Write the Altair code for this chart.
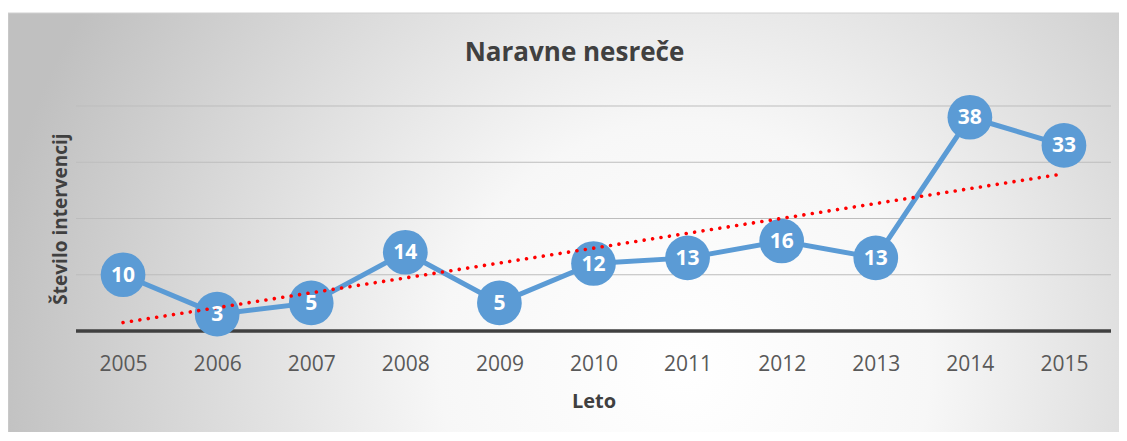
import altair as alt
import pandas as pd

years = [2005, 2006, 2007, 2008, 2009, 2010, 2011, 2012, 2013, 2014, 2015]
values = [10, 3, 5, 14, 5, 12, 13, 16, 13, 38, 33]
grid_values = [10, 20, 30, 40]

df = pd.DataFrame({"Leto": years, "Vrednost": values})
grid_df = pd.DataFrame({"Vrednost": grid_values})
base_df = pd.DataFrame({"Vrednost": [0]})

W, H = 1035, 225
FONT = "Open Sans"
TXT = "#404040"

xscale = alt.Scale(domain=[2004.5, 2015.5], nice=False, zero=False)
yscale = alt.Scale(domain=[0, 40], nice=False)

xaxis = alt.Axis(
    values=years, format="d", title="Leto", domain=False, ticks=False, grid=False,
    labelFont=FONT, labelFontSize=21, labelColor="#595959", labelPadding=22,
    titleFont=FONT, titleFontSize=20, titleFontWeight="bold", titleColor=TXT,
    titlePadding=17, zindex=1,
)
yaxis = alt.Axis(
    title="Število intervencij", domain=False, ticks=False, grid=False, labels=False,
    titleFont=FONT, titleFontSize=19, titleFontWeight="bold", titleColor=TXT,
    titlePadding=6, zindex=1,
)

X = alt.X("Leto:Q", scale=xscale, axis=xaxis)
Y = alt.Y("Vrednost:Q", scale=yscale, axis=yaxis)

bg = alt.Chart(pd.DataFrame({"a": [0]})).mark_rect(
    fill={
        "gradient": "radial",
        "x1": 0.6, "y1": 0.62, "r1": 0.0,
        "x2": 0.6, "y2": 0.62, "r2": 0.62,
        "stops": [
            {"offset": 0.0, "color": "#ffffff"},
            {"offset": 0.35, "color": "#f7f7f7"},
            {"offset": 1.0, "color": "#c0c0c0"},
        ],
    },
    stroke="#d0d0d0",
    strokeWidth=1,
).encode(
    x=alt.value(-68), x2=alt.value(1060),
    y=alt.value(-93), y2=alt.value(345),
)

grid = alt.Chart(grid_df).mark_rule(color="#bdbdbd", strokeWidth=1).encode(
    y=Y, x=alt.value(0), x2=alt.value(W),
)

baseline = alt.Chart(base_df).mark_rule(color="#404040", strokeWidth=3.5).encode(
    y=Y, x=alt.value(0), x2=alt.value(W),
)

line = alt.Chart(df).mark_line(color="#5b9bd5", strokeWidth=5).encode(x=X, y=Y)
pts = alt.Chart(df).mark_point(filled=True, shape="circle", size=2000, color="#5b9bd5", opacity=1).encode(
    x=X, y=Y
)
trend = alt.Chart(df).transform_regression("Leto", "Vrednost").mark_line(
    color="#ff0000", strokeWidth=3.6, strokeDash=[0.01, 8.5], strokeCap="round"
).encode(x=X, y=Y)
labels = alt.Chart(df).mark_text(
    font=FONT, fontSize=21, fontWeight="bold", color="white", baseline="middle", align="center", dy=1
).encode(x=X, y=Y, text="Vrednost:Q")

chart = alt.layer(bg, grid, baseline, line, pts, trend, labels).properties(
    width=W, height=H,
    title=alt.TitleParams(
        "Naravne nesreče", font=FONT, fontSize=26, fontWeight="bold", color=TXT,
        anchor="middle", dx=-19, offset=-53,
    ),
    autosize=alt.AutoSizeParams(type="none"),
    padding={"left": 68, "top": 98, "right": 8, "bottom": 101},
).configure_view(stroke=None).configure(background="white")

chart.save("out.html", embed_options={"renderer": "svg", "actions": False})
